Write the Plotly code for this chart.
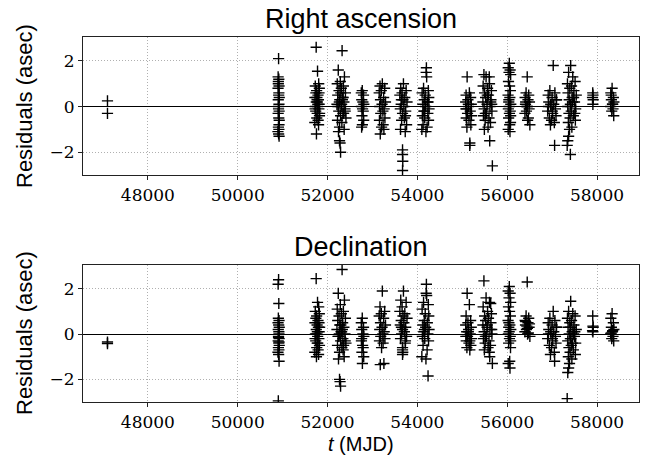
import plotly.graph_objects as go

# ---- data: observation epochs (MJD) grouped by observing season ----
mjd_groups = [
    [47100, 47100],
    [50910, 50900, 50915, 50905, 50920, 50898, 50912, 50925, 50903, 50918, 50908, 50922, 50901, 50914, 50924, 50906, 50917, 50896, 50911, 50921, 50904, 50916, 50909, 50919],
    [51747, 51777, 51803, 51727, 51817, 51757, 51740, 51787, 51720, 51767, 51797, 51750, 51813, 51730, 51780, 51807, 51737, 51770, 51820, 51760, 51790, 51717, 51800, 51753, 51810, 51773, 51723, 51823, 51763, 51783],
    [52324, 52239, 52376, 52284, 52216, 52353, 52307, 52256, 52398, 52227, 52336, 52273, 52364, 52210, 52301, 52387, 52250, 52341, 52290, 52410, 52222, 52319, 52267, 52370, 52244, 52267, 52279, 52290, 52330, 52233, 52358, 52296, 52262, 52393, 52313, 52347],
    [52773, 52752, 52801, 52762, 52787, 52808, 52755, 52780, 52794, 52766, 52805, 52776, 52759],
    [53220, 53168, 53272, 53197, 53150, 53249, 53179, 53290, 53214, 53162, 53261, 53232, 53185, 53278, 53156, 53237, 53203, 53255, 53174],
    [53690, 53630, 53750, 53660, 53610, 53720, 53680, 53770, 53640, 53700, 53620, 53740, 53670, 53710, 53650, 53760, 53625, 53730, 53670, 53670, 53675, 53670, 53645, 53735],
    [54201, 54196, 54207, 54138, 54244, 54106, 54175, 54254, 54153, 54222, 54122, 54185, 54260, 54143, 54233, 54111, 54164, 54249, 54127, 54217, 54100, 54191, 54238, 54159],
    [55108, 55158, 55085, 55186, 55126, 55076, 55200, 55140, 55099, 55177, 55117, 55204, 55089, 55149, 55191, 55103, 55168, 55168, 55135, 55080],
    [55482, 55530, 55606, 55465, 55563, 55649, 55498, 55584, 55519, 55638, 55460, 55552, 55617, 55487, 55660, 55541, 55471, 55595, 55509, 55628, 55574, 55492, 55611, 55670, 55557, 55655, 55514, 55633, 55601],
    [56047, 56023, 56065, 56041, 56077, 56029, 56053, 56071, 56020, 56059, 56035, 56080, 56044, 56026, 56068, 56050, 56032, 56074, 56056, 56023, 56062, 56038, 56077],
    [56446, 56421, 56479, 56400, 56463, 56496, 56408, 56437, 56488, 56429, 56395, 56471, 56454, 56505, 56412, 56450],
    [57025, 56950, 57062, 56913, 57000, 57099, 56926, 57037, 56975, 57074, 56901, 57012, 57087, 56938, 56988, 57050, 56963, 57056, 57093, 56919, 57006, 56969],
    [57414, 57368, 57460, 57512, 57342, 57433, 57394, 57486, 57355, 57538, 57447, 57381, 57499, 57407, 57349, 57525, 57427, 57375, 57473, 57401, 57518, 57362, 57440, 57388, 57368, 57349, 57336, 57407, 57479, 57420, 57505, 57453],
    [57905, 57910, 57900, 57915, 57908],
    [58336, 58308, 58364, 58320, 58376, 58344, 58304, 58356, 58328, 58372, 58316, 58348],
]

# right-ascension residuals (arcsec)
ra_groups = [
    [0.25, -0.3],
    [2.1, 1.3, 1.2, 1.1, 0.9, 0.8, 0.5, 0.4, 0.3, 0.1, 0.0, -0.2, -0.3, -0.5, -0.6, -0.9, -1.0, -1.1, -1.2, -1.3, 1.0, 0.6, -0.1, -0.8],
    [2.6, 1.55, 1.0, 0.9, 0.8, 0.7, 0.6, 0.5, 0.4, 0.3, 0.3, 0.2, 0.1, 0.0, 0.0, -0.1, -0.2, -0.3, -0.4, -0.5, -0.6, -0.7, -0.8, -1.2, 0.6, 0.2, -0.1, -0.3, 0.4, 0.1],
    [2.45, 1.6, 1.3, 1.1, 1.0, 0.9, 0.8, 0.7, 0.6, 0.5, 0.4, 0.3, 0.2, 0.1, 0.0, -0.1, -0.2, -0.3, -0.4, -0.5, -0.6, -0.7, -0.9, -1.0, -1.1, -1.5, -1.6, -2.0, 0.3, 0.0, -0.3, 0.6, 0.2, -0.2, 0.1, 0.4],
    [0.7, 0.6, 0.5, 0.3, 0.2, 0.1, 0.0, -0.1, -0.2, -0.4, -0.6, -0.8, -0.9],
    [1.0, 0.9, 0.8, 0.7, 0.6, 0.4, 0.3, 0.2, 0.1, 0.0, -0.1, -0.2, -0.3, -0.5, -0.6, -0.8, -0.9, -1.0, -1.2],
    [1.0, 0.8, 0.7, 0.6, 0.5, 0.4, 0.3, 0.2, 0.1, 0.0, -0.1, -0.2, -0.3, -0.5, -0.6, -0.8, -1.0, -1.1, -1.9, -2.1, -2.4, -2.8, 0.3, -0.4],
    [1.7, 1.5, 1.3, 0.8, 0.7, 0.6, 0.5, 0.4, 0.3, 0.2, 0.1, 0.0, -0.1, -0.2, -0.3, -0.4, -0.5, -0.6, -0.8, -0.9, -1.0, -1.1, 0.2, -0.2],
    [1.3, 0.6, 0.5, 0.4, 0.3, 0.2, 0.1, 0.0, -0.1, -0.2, -0.3, -0.4, -0.5, -0.6, -0.8, -0.9, -1.6, -1.7, 0.1, -0.1],
    [1.4, 1.3, 1.0, 0.9, 0.8, 0.7, 0.6, 0.5, 0.4, 0.3, 0.2, 0.1, 0.0, -0.1, -0.2, -0.3, -0.4, -0.5, -0.6, -0.7, -0.9, -1.0, -1.5, -2.6, 0.5, 0.1, -0.3, 0.2, 1.3],
    [1.9, 1.7, 1.6, 1.5, 1.4, 1.1, 0.9, 0.7, 0.5, 0.4, 0.2, 0.1, 0.0, -0.1, -0.2, -0.3, -0.5, -0.7, -0.8, -1.0, -1.1, 0.3, -0.4],
    [1.3, 0.6, 0.5, 0.4, 0.3, 0.2, 0.1, 0.0, -0.1, -0.2, -0.3, -0.5, -0.6, -0.8, 0.2, 0.0],
    [1.8, 0.7, 0.6, 0.5, 0.4, 0.3, 0.2, 0.1, 0.0, -0.1, -0.2, -0.3, -0.4, -0.5, -0.6, -0.7, -0.8, -1.7, 0.3, 0.0, -0.2, 0.1],
    [1.8, 1.5, 1.3, 1.1, 1.0, 0.9, 0.8, 0.7, 0.6, 0.5, 0.4, 0.3, 0.2, 0.1, 0.0, -0.1, -0.2, -0.3, -0.4, -0.5, -0.6, -0.7, -0.9, -1.0, -1.3, -1.5, -1.7, -2.1, 0.4, 0.0, -0.3, 0.2],
    [0.6, 0.5, 0.4, 0.3, 0.1],
    [0.8, 0.6, 0.4, 0.3, 0.2, 0.1, 0.0, -0.1, -0.2, -0.4, 0.5, 0.1],
]

# declination residuals (arcsec)
dec_groups = [
    [-0.35, -0.42],
    [2.4, 2.2, 1.35, 0.7, 0.6, 0.5, 0.4, 0.3, 0.2, 0.0, -0.1, -0.2, -0.3, -0.4, -0.5, -0.6, -0.7, -0.8, -0.9, -1.2, -2.95, 0.1, -0.15, -0.35],
    [2.45, 1.4, 1.2, 1.0, 0.9, 0.8, 0.7, 0.6, 0.5, 0.4, 0.3, 0.2, 0.1, 0.0, -0.1, -0.2, -0.3, -0.4, -0.5, -0.6, -0.7, -0.8, -0.9, -1.0, 0.5, 0.1, -0.2, 0.3, 0.0, -0.4],
    [2.85, 1.8, 1.5, 1.3, 1.1, 1.0, 0.9, 0.8, 0.7, 0.6, 0.5, 0.4, 0.3, 0.2, 0.1, 0.0, -0.1, -0.2, -0.3, -0.4, -0.5, -0.6, -0.8, -1.0, -1.1, -2.0, -2.1, -2.3, 0.2, -0.1, -0.5, 0.4, 0.0, -0.3, 0.1, -0.7],
    [0.7, 0.5, 0.3, 0.2, 0.0, -0.1, -0.3, -0.5, -0.6, -0.8, -1.0, -1.3, -0.2],
    [1.9, 1.2, 1.0, 0.9, 0.8, 0.7, 0.5, 0.4, 0.3, 0.2, 0.1, 0.0, -0.1, -0.2, -0.3, -0.4, -0.6, -1.3, -1.35],
    [1.9, 1.5, 1.4, 1.2, 1.0, 0.9, 0.8, 0.7, 0.6, 0.5, 0.4, 0.3, 0.2, 0.1, 0.0, -0.1, -0.2, -0.4, -0.6, -0.7, -0.8, -0.9, 0.3, -0.3],
    [2.2, 1.8, 1.7, 1.4, 1.3, 1.1, 0.9, 0.8, 0.6, 0.5, 0.4, 0.3, 0.2, 0.1, 0.0, -0.1, -0.2, -0.3, -0.5, -0.7, -1.0, -1.1, -1.85, 0.2],
    [1.8, 1.3, 0.8, 0.6, 0.5, 0.4, 0.3, 0.2, 0.1, 0.0, -0.1, -0.2, -0.3, -0.4, -0.5, -0.6, -0.7, -0.3, 0.1, -0.1],
    [2.35, 1.6, 1.4, 1.2, 1.0, 0.9, 0.8, 0.7, 0.6, 0.5, 0.4, 0.3, 0.2, 0.1, 0.0, -0.1, -0.2, -0.3, -0.4, -0.5, -0.6, -0.7, -1.0, -1.3, 0.4, 0.2, -0.1, 1.35, -0.8],
    [2.1, 1.9, 1.8, 1.6, 1.4, 1.2, 1.0, 0.8, 0.6, 0.4, 0.3, 0.2, 0.1, 0.0, -0.1, -0.2, -0.4, -0.6, -1.2, -1.3, -1.5, 0.5, -0.3],
    [2.3, 0.8, 0.7, 0.6, 0.5, 0.45, 0.4, 0.35, 0.3, 0.2, 0.1, 0.05, 0.0, -0.1, 0.55, 0.25],
    [1.0, 0.7, 0.6, 0.5, 0.4, 0.3, 0.2, 0.1, 0.0, -0.1, -0.2, -0.3, -0.4, -0.5, -0.6, -0.8, -0.9, -1.2, 0.3, 0.0, -0.2, 0.1],
    [1.45, 1.0, 0.9, 0.8, 0.7, 0.6, 0.5, 0.4, 0.3, 0.2, 0.1, 0.0, -0.1, -0.2, -0.3, -0.4, -0.5, -0.6, -0.7, -0.8, -0.9, -1.0, -1.1, -1.3, -1.5, -1.7, -2.85, 0.3, 0.0, -0.2, 0.1, -0.4],
    [0.8, 0.35, 0.15, 0.3, 0.1],
    [0.9, 0.7, 0.5, 0.3, 0.2, 0.1, 0.0, -0.1, -0.2, -0.3, 0.05, 0.15],
]

x_ticks = [48000, 50000, 52000, 54000, 56000, 58000]
y_ticks = [-2, 0, 2]
panel_titles = ["Right ascension", "Declination"]
y_label = "Residuals (asec)"
x_label = "<i>t</i> (MJD)"

mjd = [t for g in mjd_groups for t in g]
ra_res = [v for g in ra_groups for v in g]
dec_res = [v for g in dec_groups for v in g]

# ---- layout geometry ----
W, H = 657, 464
ml, mr, mt, mb = 83, 18, 37, 62
ph = H - mt - mb
top_dom = [(402 - 175) / ph, 1.0]
bot_dom = [0.0, (402 - 265) / ph]

marker = dict(symbol="cross-thin", size=8, color="black",
              line=dict(color="black", width=1.4))

fig = go.Figure()
fig.add_trace(go.Scatter(x=mjd, y=ra_res, mode="markers", marker=marker,
                         xaxis="x", yaxis="y", showlegend=False))
fig.add_trace(go.Scatter(x=mjd, y=dec_res, mode="markers", marker=marker,
                         xaxis="x2", yaxis="y2", showlegend=False))

tick_font = dict(family="DejaVu Serif", size=17, color="black")
sans = "Liberation Sans, Arial, sans-serif"

xcommon = dict(range=[46555, 58935], tickvals=x_ticks, ticktext=[str(v) for v in x_ticks],
               showgrid=True, gridcolor="#b0b0b0", griddash="1px,2px", gridwidth=1,
               showline=True, linecolor="#222222", linewidth=1.2, mirror=True,
               ticks="outside", ticklen=4, tickcolor="#222222", tickfont=tick_font,
               zeroline=False)
ycommon = dict(range=[-3.0, 3.05], tickvals=y_ticks, ticktext=["\u22122", "0", "2"],
               showgrid=True, gridcolor="#b0b0b0", griddash="1px,2px", gridwidth=1,
               showline=True, linecolor="#222222", linewidth=1.2, mirror=True,
               ticks="outside", ticklen=4, tickcolor="#222222", tickfont=tick_font,
               zeroline=True, zerolinecolor="black", zerolinewidth=1.2)

fig.update_layout(
    width=W, height=H,
    margin=dict(l=ml, r=mr, t=mt, b=mb, pad=0),
    paper_bgcolor="white", plot_bgcolor="white",
    xaxis=dict(domain=[0, 1], anchor="y", **xcommon),
    yaxis=dict(domain=top_dom, anchor="x", **ycommon),
    xaxis2=dict(domain=[0, 1], anchor="y2", **xcommon),
    yaxis2=dict(domain=bot_dom, anchor="x2", **ycommon),
)

def py(Y):
    return (H - mb - Y) / ph

def px(X):
    return (X - ml) / (W - ml - mr)

ann = []
ann.append(dict(text=panel_titles[0], x=px(361), y=py(19), xref="paper", yref="paper",
                xanchor="center", yanchor="middle", showarrow=False,
                font=dict(family=sans, size=27, color="black")))
ann.append(dict(text=panel_titles[1], x=px(361), y=py(247), xref="paper", yref="paper",
                xanchor="center", yanchor="middle", showarrow=False,
                font=dict(family=sans, size=27, color="black")))
for yc in (106, 333):
    ann.append(dict(text=y_label, x=px(24), y=py(yc), xref="paper", yref="paper",
                    xanchor="center", yanchor="middle", textangle=-90, showarrow=False,
                    font=dict(family=sans, size=22, color="black")))
ann.append(dict(text=x_label, x=px(361), y=py(444), xref="paper", yref="paper",
                xanchor="center", yanchor="middle", showarrow=False,
                font=dict(family=sans, size=20, color="black")))
fig.update_layout(annotations=ann)

fig.write_html("out.html")
